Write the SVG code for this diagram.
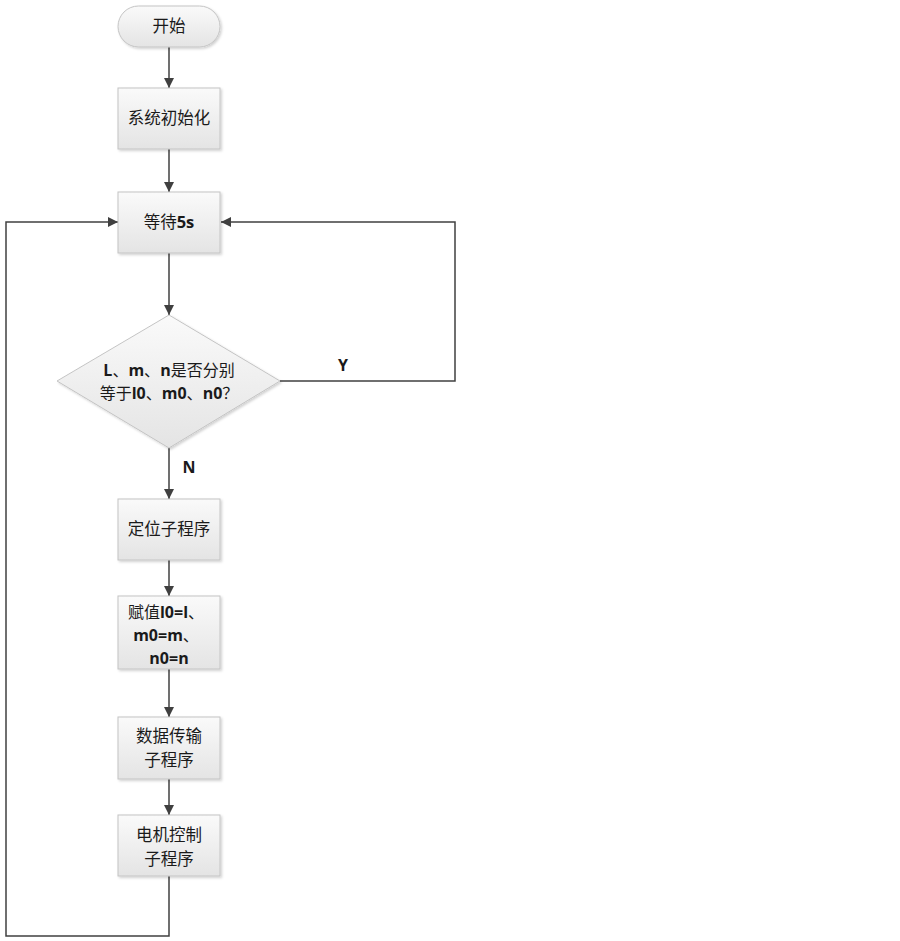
<svg xmlns="http://www.w3.org/2000/svg" width="900" height="941" viewBox="0 0 900 941">
<defs>
<linearGradient id="g" x1="0" y1="0" x2="0" y2="1">
<stop offset="0" stop-color="#fafafa"/>
<stop offset="1" stop-color="#e4e4e4"/>
</linearGradient>
<filter id="sh" x="-10%" y="-10%" width="130%" height="130%">
<feDropShadow dx="1.5" dy="1.5" stdDeviation="1" flood-color="#000" flood-opacity="0.18"/>
</filter>
<marker id="ar" viewBox="0 0 10 10" refX="10" refY="5" markerWidth="10" markerHeight="10" markerUnits="userSpaceOnUse" orient="auto">
<path d="M0,0 L10,5 L0,10 z" fill="#404040"/>
</marker>
</defs>
<style>
.n{fill:url(#g);stroke:#c4c4c4;stroke-width:1;filter:url(#sh)}
.t{font-family:"Noto Sans CJK SC","Liberation Sans",sans-serif;font-size:16.5px;fill:#1a1a1a;text-anchor:middle}
.d{font-size:16px}
.b{font-family:"Open Sans","Liberation Sans",sans-serif;font-weight:bold}
.c{fill:none;stroke:#404040;stroke-width:1.5}
.l{font-family:"Open Sans","Liberation Sans",sans-serif;font-weight:bold;font-size:16px;fill:#1a1a1a;text-anchor:middle}
</style>
<rect width="900" height="941" fill="#fff"/>
<g id="connectors">
<path class="c" d="M169,47 V88" marker-end="url(#ar)"/>
<path class="c" d="M169,149 V192" marker-end="url(#ar)"/>
<path class="c" d="M169,253 V315" marker-end="url(#ar)"/>
<path class="c" d="M280,381 H455 V222 H221" marker-end="url(#ar)"/>
<path class="c" d="M169,448 V499" marker-end="url(#ar)"/>
<path class="c" d="M169,560 V596" marker-end="url(#ar)"/>
<path class="c" d="M169,669 V717" marker-end="url(#ar)"/>
<path class="c" d="M169,779 V815" marker-end="url(#ar)"/>
<path class="c" d="M169,876 V936 H6 V222 H118" marker-end="url(#ar)"/>
<text class="l" x="343" y="371">Y</text>
<text class="l" x="189" y="473">N</text>
</g>
<g id="start">
<rect class="n" x="118" y="6" width="102" height="41" rx="20.5"/>
<text class="t" x="169" y="32">开始</text>
</g>
<g id="init">
<rect class="n" x="118" y="88" width="102" height="61"/>
<text class="t" x="169" y="124">系统初始化</text>
</g>
<g id="wait">
<rect class="n" x="118" y="192" width="102" height="61"/>
<text class="t" x="169" y="228">等待<tspan class="b">5s</tspan></text>
</g>
<g id="decision">
<polygon class="n" points="169,315 280,381 169,448 57,381"/>
<text class="t d" x="169" y="376"><tspan class="b">L</tspan>、<tspan class="b">m</tspan>、<tspan class="b">n</tspan>是否分别</text>
<text class="t d" x="169" y="399">等于<tspan class="b">l0</tspan>、<tspan class="b">m0</tspan>、<tspan class="b">n0</tspan>？</text>
</g>
<g id="locate">
<rect class="n" x="118" y="499" width="102" height="61"/>
<text class="t" x="169" y="535">定位子程序</text>
</g>
<g id="assign">
<rect class="n" x="118" y="596" width="102" height="73"/>
<text class="t d" x="166" y="618">赋值<tspan class="b">l0=l</tspan>、</text>
<text class="t d" x="166" y="641"><tspan class="b">m0=m</tspan>、</text>
<text class="t d" x="169" y="664"><tspan class="b">n0=n</tspan></text>
</g>
<g id="data">
<rect class="n" x="118" y="717" width="102" height="62"/>
<text class="t" x="169" y="742">数据传输</text>
<text class="t" x="169" y="766">子程序</text>
</g>
<g id="motor">
<rect class="n" x="118" y="815" width="102" height="61"/>
<text class="t" x="169" y="841">电机控制</text>
<text class="t" x="169" y="865">子程序</text>
</g>
</svg>
